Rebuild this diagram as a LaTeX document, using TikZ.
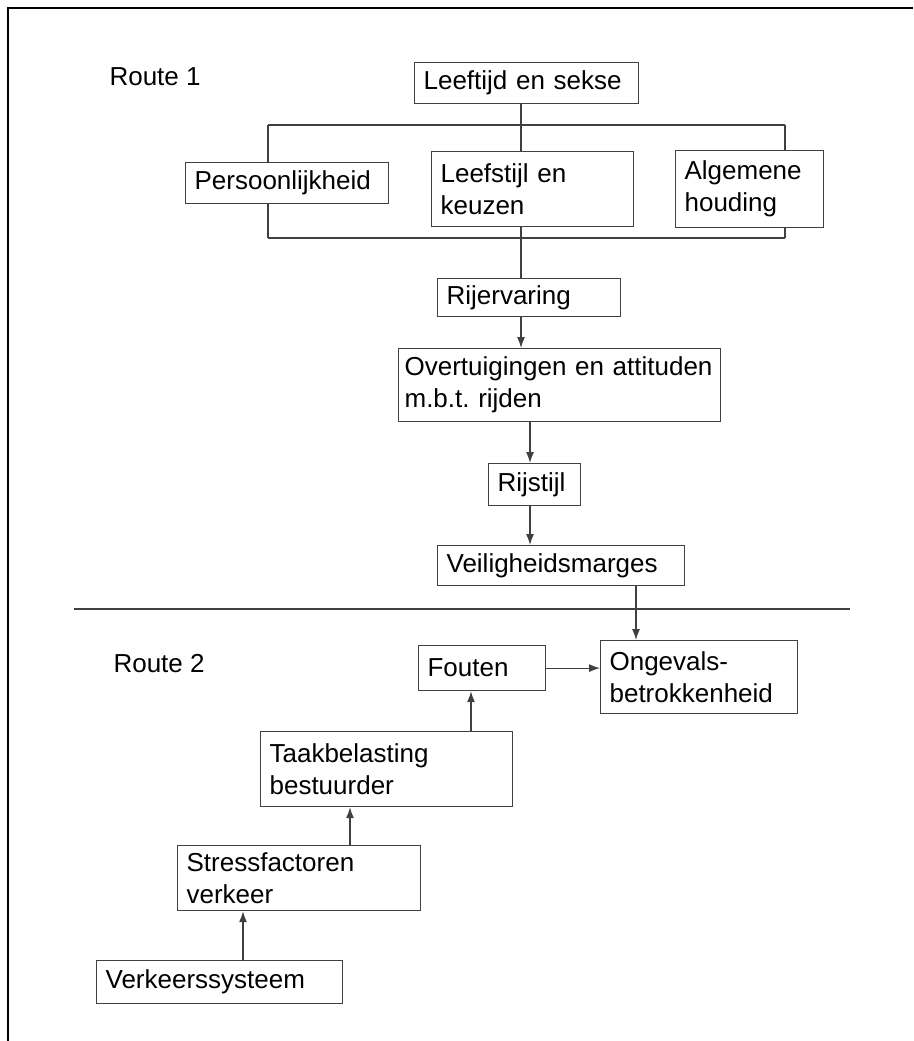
\documentclass[tikz,border=0pt]{standalone}
\usepackage{fontspec}
\setmainfont{Liberation Sans}
\usetikzlibrary{arrows.meta}
\frenchspacing
\begin{document}
\begin{tikzpicture}[
    x=1pt, y=-1pt,
    >={Latex[length=11pt,width=8pt]},
    box/.style={draw=black!75, line width=1.2pt, anchor=north west, inner xsep=9pt, inner ysep=0pt, align=left, font=\fontsize{26}{32}\selectfont},
    link/.style={draw=black!75, line width=1.2pt},
    label/.style={anchor=west, font=\fontsize{26}{32}\selectfont}
]
    \useasboundingbox (0,0) rectangle (913,1041);
    % Frame
    \draw[line width=2.4pt] (8,1041) -- (8,8) -- (913,8);

    % Route 1
    \node[label] (route1) at (106,77) {Route 1};
    \node[box, text width=206pt, minimum height=41pt] (leeftijd) at (414,62) {Leeftijd en sekse};
    \node[box, text width=185pt, minimum height=41pt] (persoon) at (185,162) {Persoonlijkheid};
    \node[box, text width=184pt, minimum height=75pt] (leefstijl) at (431,151) {Leefstijl en\\keuzen};
    \node[box, text width=130pt, minimum height=77pt] (algemeen) at (675,150) {Algemene\\houding};
    \node[box, text width=165pt, minimum height=38pt] (rijervaring) at (437,278) {Rijervaring};
    \node[box, inner xsep=6pt, text width=310pt, minimum height=73pt] (overtuiging) at (398,348) {Overtuigingen en attituden\\m.b.t. rijden};
    \node[box, text width=74pt, minimum height=42pt] (rijstijl) at (488,463) {Rijstijl};
    \node[box, text width=229pt, minimum height=40pt] (marges) at (437,545) {Veiligheidsmarges};

    % Bracket
    \coordinate (midx) at (521,0);
    \coordinate (lt) at (268,125);
    \coordinate (rt) at (785,125);
    \coordinate (lb) at (268,238);
    \coordinate (rb) at (785,238);
    \draw[link] (leeftijd.south -| midx) -- (leefstijl.north -| midx);
    \draw[link] (lt) -- (rt);
    \draw[link] (lb) -- (rb);
    \draw[link] (lt) -- (persoon.north -| lt);
    \draw[link] (persoon.south -| lb) -- (lb);
    \draw[link] (rt) -- (algemeen.north -| rt);
    \draw[link] (algemeen.south -| rb) -- (rb);
    \draw[link] (leefstijl.south -| midx) -- (rijervaring.north -| midx);

    % Chain
    \coordinate (chainx) at (530,0);
    \draw[link, ->] (rijervaring.south -| midx) -- (overtuiging.north -| midx);
    \draw[link, ->] (overtuiging.south -| chainx) -- (rijstijl.north -| chainx);
    \draw[link, ->] (rijstijl.south -| chainx) -- (marges.north -| chainx);

    % Separator
    \coordinate (sepl) at (74,609);
    \coordinate (sepr) at (850,609);
    \draw[link] (sepl) -- (sepr);

    % Route 2
    \node[label] (route2) at (110,664) {Route 2};
    \node[box, text width=109pt, minimum height=45pt] (fouten) at (418,645) {Fouten};
    \node[box, text width=179pt, minimum height=73pt] (ongeval) at (600,640) {Ongevals-\\betrokkenheid};
    \node[box, text width=234pt, minimum height=75pt] (taak) at (260,731) {Taakbelasting\\bestuurder};
    \node[box, text width=225pt, minimum height=65pt] (stress) at (177,845) {Stressfactoren\\verkeer};
    \node[box, text width=228pt, minimum height=43pt] (systeem) at (96,960) {Verkeerssysteem};

    % Arrows route 2
    \coordinate (margex) at (636,0);
    \coordinate (foutx) at (471,0);
    \coordinate (stressx) at (350,0);
    \coordinate (systx) at (243,0);
    \draw[link, ->] (marges.south -| margex) -- (ongeval.north -| margex);
    \draw[link, ->] (fouten.east) -- (ongeval.west |- fouten.east);
    \draw[link, ->] (taak.north -| foutx) -- (fouten.south -| foutx);
    \draw[link, ->] (stress.north -| stressx) -- (taak.south -| stressx);
    \draw[link, ->] (systeem.north -| systx) -- (stress.south -| systx);
\end{tikzpicture}
\end{document}
